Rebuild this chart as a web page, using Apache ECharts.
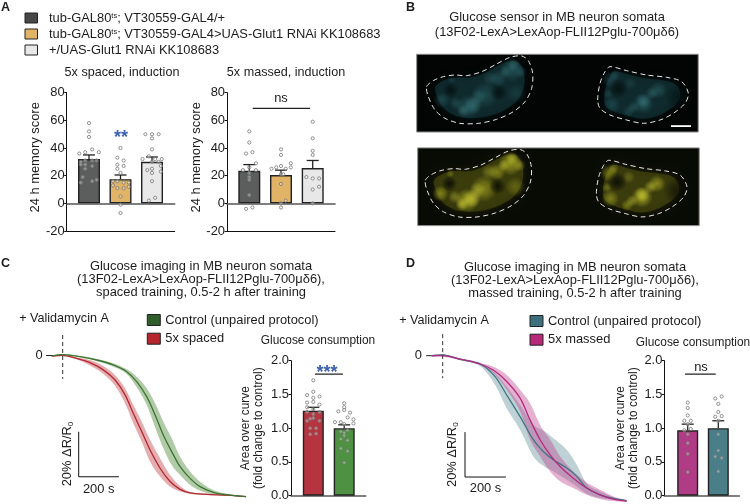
<!DOCTYPE html>
<html><head><meta charset="utf-8">
<style>html,body{margin:0;padding:0;background:#fff}#c{width:750px;height:504px}</style>
<script src="https://cdn.jsdelivr.net/npm/echarts@6/dist/echarts.min.js"></script>
</head><body><div id="c"></div>
<script>
// ---------- panel A data ----------
const genotypeNames = ['tub-GAL80ts; VT30559-GAL4/+','tub-GAL80ts; VT30559-GAL4>UAS-Glut1 RNAi KK108683','+/UAS-Glut1 RNAi KK108683'];
const spacedMeans = [32,17.5,30];
const spacedTops = [35,20.5,33.5];
const massedMeans = [23.5,20.5,25.5];
const massedTops = [28,24,31];
const spacedDots1 = [[0,58],[0,52],[0,48],[-.31,36],[-.12,37],[.1,39],[.31,37],[-.26,30],[-.12,31],[.1,31],[.24,31],[-.26,28],[-.12,28],[.1,27],[-.12,25],[-.2,19],[-.26,15],[.1,16],[.24,17]];
const spacedDots2 = [[0,40],[-.1,33],[.1,31],[-.1,28],[.1,27],[-.1,25],[0,22],[-.24,16],[-.1,16],[.1,15],[.26,15],[-.24,13],[.26,12],[-.1,11],[.1,11],[0,5],[0,-1],[0,-7]];
const spacedDots3 = [[-.21,50],[0,50],[.21,50],[0,47],[0,39],[-.1,34],[-.3,32],[.1,32],[.31,32],[0,30],[.21,30],[.28,27],[0,25],[-.15,24],[.28,23],[0,22],[0,16],[.1,4],[-.1,2]];
const massedDots1 = [[0,52],[0,44],[-.1,36],[.1,37],[.21,29],[0,26],[-.2,24],[.21,24],[0,22],[0,19],[0,17],[0,6],[-.1,-4],[.1,-3]];
const massedDots2 = [[0,39],[0,35],[-.3,25],[-.15,26],[0,27],[.15,25],[.31,29],[.31,26],[0,21],[.07,21],[0,14],[.15,2],[0,0],[0,-3]];
const massedDots3 = [[0,59],[0,47],[0,38],[0,35],[-.2,19],[0,18],[.2,18],[0,10],[.2,12],[0,0]];
// ---------- panel C / D bar data ----------
const spacedAoc = [1.26,1.0];
const spacedAocTops = [1.31,1.05];
const massedAoc = [0.97,1.0];
const massedAocTops = [1.06,1.11];
const aocRed = [[0,1.71],[-.2,1.49],[0,1.54],[.2,1.47],[0,1.45],[0,1.39],[-.2,1.38],[.2,1.35],[-.2,1.31],[0,1.28],[-.2,1.24],[.2,1.24],[0,1.21],[0,1.15],[-.2,1.11],[-.1,1.14],[.2,1.11],[-.1,1],[.09,1],[-.1,.91],[.09,.92]];
const aocGreen = [[0,1.37],[0,1.31],[-.19,1.25],[0,1.27],[.19,1.23],[.11,1.16],[.3,1.13],[.3,1.07],[-.3,1.09],[-.11,1.09],[0,1.06],[-.11,.95],[.11,.97],[0,.93],[-.11,.84],[0,.89],[.11,.82],[-.11,.7],[.11,.66],[0,.49]];
const aocMagenta = [[0,1.38],[0,1.3],[0,1.19],[-.11,1.11],[.1,1.11],[0,1.06],[.1,.99],[-.11,.97],[0,.91],[0,.78],[0,.62],[0,.35]];
const aocTeal = [[-.1,1.44],[.11,1.47],[0,1.36],[0,1.24],[-.1,1.17],[.11,1.18],[0,1.11],[0,.91],[0,.67],[-.1,.58],[.11,.56],[0,.36]];
// ---------- imaging traces: time (s), % dR/R0 ----------
const tGreen = [-55,0,86,170,253,320,370,420,462,503,545,587,637,687,753,837,917];
const meanGreen = [-0.2,0.4,-0.5,-2,-4.2,-7.2,-11.6,-18.3,-26.4,-35.3,-42.7,-49.4,-54.6,-58.3,-60.8,-62.1,-62.7];
const hiGreen = [0,0.7,-0.2,-1.5,-3.5,-6.1,-9.4,-14.6,-21.2,-29.4,-36.8,-45,-51.6,-56.1,-59.8,-61.7,-62.6];
const loGreen = [-0.5,0.1,-0.8,-2.5,-5,-8.2,-14.1,-22,-31.9,-41.2,-48.7,-53.1,-57.5,-60.1,-61.7,-62.4,-62.9];
const tRed = [-55,0,70,136,203,262,312,353,395,437,487,537,587,637,720,820,917];
const meanRed = [-0.2,0.1,-1.3,-3.2,-6.4,-10.9,-17.5,-25.7,-33.8,-42,-50.1,-56,-59.5,-61.1,-61.7,-62.1,-62.7];
const hiRed = [0,0.4,-0.9,-2,-4.7,-8.7,-14.6,-22,-29.4,-37.5,-45.7,-53.1,-58,-60.7,-61.4,-61.9,-62.6];
const loRed = [-0.5,-0.2,-1.7,-4.4,-8.2,-13.5,-21.3,-30.1,-38.3,-47.2,-53.8,-58.3,-60.4,-61.5,-62,-62.3,-62.9];
const tTeal = [-55,0,87,187,262,320,387,453,503,553,620,670,720,787,853,920];
const meanTeal = [0,0.3,-1.6,-3.7,-9.3,-17.5,-27.1,-37.4,-42.6,-46.3,-50,-53.7,-58.9,-61.9,-63.5,-64.5];
const hiTeal = [0.3,0.6,-1.2,-3.1,-7.8,-13.8,-21.9,-30.8,-33.3,-36.7,-41.9,-48.5,-57,-60.4,-62.9,-64.4];
const loTeal = [-0.3,0,-2,-4.6,-13,-23.4,-33,-44.8,-49,-51.5,-55.2,-58.2,-61.4,-63.3,-64.1,-64.8];
const tMagenta = [-55,0,87,187,253,320,387,437,487,537,587,653,720,787,853,920];
const meanMagenta = [0,0,-1.5,-3.7,-6.4,-11.5,-18.9,-28.6,-37.4,-44.1,-49.3,-54.5,-58.9,-61.9,-63.8,-64.7];
const hiMagenta = [0.3,0.6,-1.2,-3.3,-4.9,-8.6,-15.2,-21.2,-30.8,-37.4,-44.8,-51.5,-56.4,-59.6,-62.6,-64.4];
const loMagenta = [-0.3,-0.5,-1.9,-4.3,-7.8,-15.2,-24.9,-37.4,-44.8,-51.5,-55.9,-58.9,-61.9,-63.8,-64.7,-65.1];
// ---------- micrograph outlines ----------
const outlineLeft = [[50,140],[70,122],[100,110],[135,105],[170,107],[215,95],[260,72],[300,52],[335,48],[355,62],[368,100],[365,145],[345,185],[310,215],[260,238],[205,250],[150,250],[105,235],[75,210],[55,170]];
const outlineRight = [[563,180],[570,130],[585,95],[600,80],[650,92],[710,105],[770,112],[815,125],[835,160],[825,190],[790,220],[750,240],[700,250],[650,240],[600,225],[570,205]];

const FONT = '"Liberation Sans", Arial, sans-serif';
const INK = '#1c1c1c';
const FS = 12.9;
const COL = {dark:'#5b5e5c',orange:'#e0b366',light:'#e7e8e7',red:'#b5343f',green:'#4f9142',magenta:'#b03c86',teal:'#4a7f8a'};

const grids = [
 {left:66.7,top:92.7,width:108,height:138.3},
 {left:227,top:92.7,width:108,height:138.3},
 {left:44.7,top:344.25,width:218,height:159.75},
 {left:291,top:360.7,width:74.7,height:135},
 {left:424.7,top:344.45,width:218,height:159.55},
 {left:664.3,top:360.7,width:75,height:135}
];
const xAxis=[], yAxis=[], series=[];
function barAxes(g,xmin,xmax,ymin,ymax,step,name,gap,fmt,bottomLine){
  const base={gridIndex:g,type:'value',min:xmin,max:xmax,splitLine:{show:false},axisTick:{show:false},axisLabel:{show:false}};
  const zero=xAxis.length;
  xAxis.push(Object.assign({},base,{axisLine:{show:true,onZero:true,lineStyle:{color:'#555',width:1.6}}}));
  if(bottomLine) xAxis.push(Object.assign({},base,{position:'bottom',axisLine:{show:true,onZero:false,lineStyle:{color:'#111',width:1}}}));
  const y=yAxis.length;
  const two=name.includes('\n');
  yAxis.push({gridIndex:g,type:'value',min:ymin,max:ymax,interval:step,splitLine:{show:false},
    name:name,nameLocation:'middle',nameGap:gap,nameRotate:90,
    nameTextStyle:{fontFamily:FONT,fontSize:two?11.9:FS,color:INK,lineHeight:13,padding:two?[0,0,0,0]:[0,0,0,9]},
    axisLine:{show:true,onZero:false,lineStyle:{color:'#111',width:1}},
    axisTick:{show:true,length:2.5,lineStyle:{color:'#111',width:1}},
    axisLabel:{fontFamily:FONT,fontSize:FS,color:INK,margin:2,formatter:fmt}});
  return {x:zero,y:y};
}
function barGroup(ax,names,cols,means,tops,dots,barW){
  means.forEach((m,i)=>{
    series.push({type:'bar',name:names[i],xAxisIndex:ax.x,yAxisIndex:ax.y,data:[[i,m]],barWidth:barW,barGap:'-100%',z:2,
      itemStyle:{color:cols[i],borderColor:'#222',borderWidth:1.4}});
  });
  series.push({type:'custom',name:'SEM',xAxisIndex:ax.x,yAxisIndex:ax.y,z:4,
    data:means.map((m,i)=>[i,m,tops[i]]),
    renderItem:function(p,api){
      const a=api.coord([api.value(0),api.value(1)]),b=api.coord([api.value(0),api.value(2)]);
      const st={stroke:'#222',lineWidth:1.3,fill:null};
      return {type:'group',children:[
        {type:'line',shape:{x1:a[0],y1:a[1],x2:b[0],y2:b[1]},style:st},
        {type:'line',shape:{x1:b[0]-6,y1:b[1],x2:b[0]+6,y2:b[1]},style:st}]};
    }});
  dots.forEach((d,i)=>{
    series.push({type:'scatter',name:'dots',xAxisIndex:ax.x,yAxisIndex:ax.y,z:5,symbol:'circle',symbolSize:3.2,clip:false,
      data:d.map(p=>[i+p[0],p[1]]),
      itemStyle:{color:'rgba(255,255,255,0.35)',borderColor:'#777',borderWidth:0.8,opacity:1}});
  });
}
function sigLine(ax,x1,x2,v){
  series.push({type:'line',name:'bracket',xAxisIndex:ax.x,yAxisIndex:ax.y,z:6,symbol:'none',clip:false,
    data:[[x1,v],[x2,v]],lineStyle:{color:'#222',width:1.2}});
}
function yFmt0(v){return v}
function yFmt1(v){return v.toFixed(1)}
// panel A
const aL=barAxes(0,-.708,2.72,-20,80,20,'24 h memory score',13,yFmt0,true);
const aR=barAxes(1,-.703,2.703,-20,80,20,'24 h memory score',13,yFmt0,true);
const gCols=[COL.dark,COL.orange,COL.light];
barGroup(aL,genotypeNames,gCols,spacedMeans,spacedTops,[spacedDots1,spacedDots2,spacedDots3],22);
barGroup(aR,genotypeNames,gCols,massedMeans,massedTops,[massedDots1,massedDots2,massedDots3],22);
sigLine(aR,.107,1.914,68.7);
// curves
function curveAxes(g,off){
  const x=xAxis.length,y=yAxis.length;
  xAxis.push({gridIndex:g,type:'value',min:-90,max:1000,show:false});
  yAxis.push({gridIndex:g,type:'value',min:-66,max:5,splitLine:{show:false},offset:off,
    axisLine:{show:false},
    axisTick:{show:false},
    axisLabel:{show:true,customValues:[0],fontFamily:FONT,fontSize:FS,color:INK,margin:12,formatter:v=>v}});
  return {x:x,y:y};
}
// smooth sampling of the read-off band edges, so the filled edge is drawn as a curve
function sampler(t,v){
  const n=t.length,m=new Array(n).fill(0);
  m[0]=(v[1]-v[0])/(t[1]-t[0]);m[n-1]=(v[n-1]-v[n-2])/(t[n-1]-t[n-2]);
  for(let i=1;i<n-1;i++) m[i]=(v[i+1]-v[i-1])/(t[i+1]-t[i-1]);
  return function(x){
    let i=0; while(i<n-2&&x>t[i+1]) i++;
    const h=t[i+1]-t[i],s=(x-t[i])/h,s2=s*s,s3=s2*s;
    return (2*s3-3*s2+1)*v[i]+(s3-2*s2+s)*h*m[i]+(-2*s3+3*s2)*v[i+1]+(s3-s2)*h*m[i+1];
  };
}
function band(ax,key,t,lo,hi,col){
  const fl=sampler(t,lo),fh=sampler(t,hi);
  series.push({type:'custom',name:key+' band',xAxisIndex:ax.x,yAxisIndex:ax.y,z:2,silent:true,clip:false,
    data:t.map((v,i)=>[v,lo[i],hi[i]]),
    renderItem:function(p,api){
      if(p.dataIndex!==0) return null;
      const up=[],dn=[],t0=t[0],t1=t[t.length-1];
      for(let x=t0;x<=t1;x+=5){up.push(api.coord([x,fh(x)]));dn.unshift(api.coord([x,fl(x)]));}
      return {type:'polygon',shape:{points:up.concat(dn)},style:{fill:col,stroke:null}};
    }});
}
function trace(ax,name,t,m,col,z){
  series.push({type:'line',name:name,xAxisIndex:ax.x,yAxisIndex:ax.y,symbol:'none',smooth:0.3,clip:false,z:z,
    data:t.map((v,i)=>[v,m[i]]),itemStyle:{color:col},lineStyle:{color:col,width:1.3}});
}
function guides(ax,inj,scale,tick){
  series.push({type:'line',name:'injection',xAxisIndex:ax.x,yAxisIndex:ax.y,symbol:'none',clip:false,z:6,
    data:inj,lineStyle:{color:'#333',width:1,type:[4,3]}});
  series.push({type:'line',name:'scale bar',xAxisIndex:ax.x,yAxisIndex:ax.y,symbol:'none',clip:false,z:6,
    data:scale,lineStyle:{color:'#111',width:1}});
  series.push({type:'line',name:'zero tick',xAxisIndex:ax.x,yAxisIndex:ax.y,symbol:'none',clip:false,z:3,
    data:tick,lineStyle:{color:'#222',width:1}});
}
const cC=curveAxes(2,-10), cD=curveAxes(4,-9.3);
band(cC,'red',tRed,loRed,hiRed,'rgba(205,105,112,0.55)');
band(cC,'green',tGreen,loGreen,hiGreen,'rgba(125,168,110,0.6)');
trace(cC,'5x spaced',tRed,meanRed,'#b4262e',4);
trace(cC,'Control (unpaired protocol)',tGreen,meanGreen,'#3d7431',5);
guides(cC,[[0,9.1],[0,-10.4]],[[80,-33.9],[80,-53.9],[281,-53.9]],[[-83,0],[-40,0]]);
band(cD,'teal',tTeal,loTeal,hiTeal,'rgba(100,145,155,0.42)');
band(cD,'magenta',tMagenta,loMagenta,hiMagenta,'rgba(190,70,145,0.42)');
trace(cD,'Control (unpaired protocol) ',tTeal,meanTeal,'#3a7784',4);
trace(cD,'5x massed',tMagenta,meanMagenta,'#b52a80',5);
guides(cD,[[0,9.6],[0,-10]],[[111.5,-34],[111.5,-54],[316,-54]],[[-83,0],[-40,0]]);
// bars C, D
const bC=barAxes(3,-.722,1.696,0,2,.5,'Area over curve\n(fold change to control)',25.5,yFmt1,false);
const bD=barAxes(5,-.765,1.686,0,2,.5,'Area over curve\n(fold change to control)',24,yFmt1,false);
barGroup(bC,['AOC 5x spaced','AOC control'],[COL.red,COL.green],spacedAoc,spacedAocTops,[aocRed,aocGreen],21);
barGroup(bD,['AOC 5x massed','AOC control '],[COL.magenta,COL.teal],massedAoc,massedAocTops,[aocMagenta,aocTeal],21);
sigLine(bC,.055,.96,1.8);
sigLine(bD,-.09,.915,1.8);

// ---------- graphic: text ----------
const graphic=[];
function text(s,x,y,o){
  o=o||{};
  graphic.push({type:'text',x:x,y:y,rotation:o.rot||0,z:20,silent:true,style:Object.assign({text:s,font:(o.weight||'normal')+' '+(o.size||FS)+'px '+FONT,fill:o.fill||INK,textAlign:o.align||'center',textVerticalAlign:'middle',lineHeight:o.lh||14},o.style||{})});
}
function multi(lines,x,y0,lh,size){lines.forEach((l,i)=>text(l,x,y0+i*lh,{size:size}));}
[['A',1,8],['B',406,8],['C',1,264],['D',406,264]].forEach(a=>text(a[0],a[1],a[2],{weight:'bold',size:12.5,align:'left'}));
text('5x spaced, induction',122,73,{size:12.6});
text('5x massed, induction',286,73,{size:12.6});
text('ns',281,98);
text('**',121,138.5,{size:18,fill:'#3f62b0',weight:'bold'});
multi(['Glucose sensor in MB neuron somata','(13F02-LexA>LexAop-FLII12Pglu-700μδ6)'],557,17,15.5);
multi(['Glucose imaging in MB neuron somata','(13F02-LexA>LexAop-FLII12Pglu-700μδ6),','spaced training, 0.5-2 h after training'],201,266,13);
multi(['Glucose imaging in MB neuron somata','(13F02-LexA>LexAop-FLII12Pglu-700μδ6),','massed training, 0.5-2 h after training'],575,267,13);
text('+ Validamycin A',64,319,{size:12.6});
text('+ Validamycin A',444,320.5,{size:12.6});
text('Glucose consumption',318,341,{size:11.9});
text('Glucose consumption',693,343,{size:11.9});
text('***',327,373,{size:18,fill:'#3f62b0',weight:'bold'});
text('ns',701,367);
function dR(x,y){
  graphic.push({type:'text',x:x,y:y,rotation:Math.PI/2,z:20,silent:true,style:{text:'20% ΔR/R{s|0}',font:FS+'px '+FONT,fill:INK,textAlign:'center',textVerticalAlign:'middle',
    rich:{s:{font:'8px '+FONT,fill:INK,padding:[6,0,0,0]}}}});
}
dR(67.7,454); dR(452.3,454.7);
text('200 s',98.7,489); text('200 s',485.5,488);

// ---------- graphic: micrographs ----------
const PX=(zx)=>410+zx/3, PY=(zy)=>40+zy/3;
function glow(group,zx,zy,rx,ry,rgb,a){
  group.push({type:'ellipse',shape:{cx:PX(zx),cy:PY(zy),rx:rx/3,ry:ry/3},silent:true,
    style:{fill:new echarts.graphic.RadialGradient(.5,.5,.5,[
      {offset:0,color:'rgba('+rgb+','+a+')'},{offset:.5,color:'rgba('+rgb+','+(a*.6)+')'},{offset:1,color:'rgba('+rgb+',0)'}])}});
}
function shrink(o,f){
  const cx=o.reduce((s,p)=>s+p[0],0)/o.length, cy=o.reduce((s,p)=>s+p[1],0)/o.length;
  return o.map(p=>[PX(cx+(p[0]-cx)*f),PY(cy+(p[1]-cy)*f)]);
}
function micrograph(dx,dy,bg,hole,base,bright,hot,a1,a2,a3,bar,panelDx){
  const ch=[];
  ch.push({type:'rect',shape:{x:416.7+panelDx,y:54.3,width:281.5,height:77.7},silent:true,style:{fill:bg,stroke:'#8a8a8a',lineWidth:1}});
  [outlineLeft,outlineRight].forEach(o=>{
    ch.push({type:'polygon',shape:{points:shrink(o,.84),smooth:.4},silent:true,
      style:{fill:'rgba('+base+','+a1+')',shadowBlur:10,shadowColor:'rgba('+base+','+a1+')'}});
  });
  [[175,200,66,36,1],[95,180,45,24,.75],[225,165,40,48,.75],[305,90,62,36,.9],[265,115,42,26,.75],[320,160,30,34,.45],[125,120,42,13,.45],
   [700,190,72,32,1],[745,150,44,26,.8],[605,195,36,26,.7],[600,118,30,26,.65],[655,215,48,18,.6]].forEach(b=>glow(ch,b[0],b[1],b[2],b[3],bright,a2*b[4]));
  [[190,195,30,18,1],[160,212,30,13,.9],[138,190,20,13,.6],[205,170,16,22,.7],[310,75,24,13,.8],[285,95,24,12,.7],[240,115,18,15,.55],[332,95,13,22,.6],
   [700,183,34,15,.9],[725,160,26,13,.8],[670,202,28,12,.7],[595,162,10,20,.5],[615,105,18,11,.5],[660,130,13,18,.4]].forEach(b=>glow(ch,b[0],b[1],b[2]*1.5,b[3]*1.5,hot,a3*b[4]));
  [[122,150,38,24,.9],[266,158,40,26,.85],[625,145,32,30,.92],[805,172,46,42,.65]].forEach(b=>glow(ch,b[0],b[1],b[2],b[3],hole,b[4]));
  [outlineLeft,outlineRight].forEach(o=>{
    ch.push({type:'polygon',shape:{points:o.map(p=>[PX(p[0]),PY(p[1])]),smooth:.3},silent:true,
      style:{fill:null,stroke:'#e8e8e8',lineWidth:1,lineDash:[5,3.5]}});
  });
  if(bar) ch.push({type:'rect',shape:{x:671,y:125.2,width:20,height:1.8},silent:true,style:{fill:'#fff'}});
  graphic.push({type:'group',x:dx,y:dy,z:1,silent:true,children:ch});
}
micrograph(0,0,'#020504','4,16,16','22,60,65','52,118,124','76,146,150',.55,.5,.4,true,0);
micrograph(-1.3,93.6,'#080a04','10,12,4','75,76,15','175,175,36','215,215,60',.62,.8,.6,false,2.3);

const legendBase={selectedMode:false,orient:'vertical',icon:'rect',padding:0,textStyle:{fontFamily:FONT,fontSize:FS,color:INK}};
const option={
 animation:false,backgroundColor:'#fff',
 grid:grids,xAxis:xAxis,yAxis:yAxis,series:series,graphic:graphic,
 legend:[
  Object.assign({},legendBase,{left:24.5,top:11.5,itemWidth:12.5,itemHeight:10,itemGap:3,
    textStyle:{fontFamily:FONT,fontSize:FS,color:INK,padding:[0,0,0,6.5],rich:{s:{fontFamily:FONT,fontSize:7.5,color:INK,padding:[0,0,5,0]}}},
    formatter:n=>n.replace('80ts','80{s|ts}'),
    data:genotypeNames.map((n,i)=>({name:n,icon:'rect',itemStyle:{color:['#464846',COL.orange,COL.light][i],borderColor:'#222',borderWidth:1}}))}),
  Object.assign({},legendBase,{left:146.8,top:313.5,itemWidth:13,itemHeight:11,itemGap:5.7,
    data:[{name:'Control (unpaired protocol)',icon:'rect',itemStyle:{color:'#2f5e2a',borderColor:'#222',borderWidth:1}},
          {name:'5x spaced',icon:'rect',itemStyle:{color:'#b6262c',borderColor:'#222',borderWidth:1}}]}),
  Object.assign({},legendBase,{left:529.5,top:314.5,itemWidth:13,itemHeight:11,itemGap:5.7,
    data:[{name:'Control (unpaired protocol) ',icon:'rect',itemStyle:{color:'#3d6f7e',borderColor:'#222',borderWidth:1}},
          {name:'5x massed',icon:'rect',itemStyle:{color:'#b72a7a',borderColor:'#222',borderWidth:1}}]})
 ]
};
const chart=echarts.init(document.getElementById('c'),null,{renderer:'canvas'});
chart.setOption(option);
</script></body></html>
